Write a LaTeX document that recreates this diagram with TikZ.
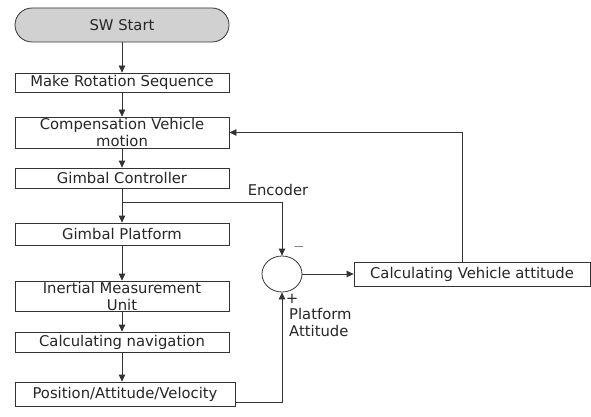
\documentclass[tikz,border=0pt]{standalone}
\usepackage{fontspec}
\setmainfont{DejaVu Sans}
\usetikzlibrary{arrows.meta,shapes.geometric,calc}
\begin{document}
\begin{tikzpicture}[x=1pt,y=-1pt,
  font=\fontsize{14.8}{17}\selectfont,
  every node/.style={text=black!85},
  box/.style={draw=black!80,line width=0.8pt,fill=white,minimum width=214pt,inner sep=0pt,align=center},
  arr/.style={draw=black!80,line width=0.8pt,-{Triangle[width=6.5pt,length=7pt]}},
  ln/.style={draw=black!80,line width=0.8pt}]
\useasboundingbox (0,0) rectangle (591,417);
\node[box,minimum height=34pt,rounded corners=17pt,fill=black!18] (start) at (122,25) {SW Start};
\node[box,minimum height=19pt] (mrs) at (122,82.5) {Make Rotation Sequence};
\node[box,minimum height=31pt] (comp) at (122,132.5) {Compensation Vehicle\\motion};
\node[box,minimum height=20pt] (gc) at (122,178) {Gimbal Controller};
\node[box,minimum height=22pt] (gp) at (122,234) {Gimbal Platform};
\node[box,minimum height=30pt] (imu) at (122,296) {Inertial Measurement\\Unit};
\node[box,minimum height=20pt] (nav) at (122,342) {Calculating navigation};
\node[box,minimum height=24pt,minimum width=220pt] (pav) at (125,394) {Position/Attitude/Velocity};
\node[draw=black!80,line width=0.8pt,ellipse,minimum width=40pt,minimum height=36pt,inner sep=0pt] (sum) at (282,274) {};
\node[box,minimum height=24pt,minimum width=236pt] (cva) at (472,274) {Calculating Vehicle attitude};
\coordinate (br) at (123,202);
\node (enc) at (278,190) {Encoder};
\node (minus) at (299,247) {$-$};
\node (plus) at (292,299) {+};
\node[anchor=north west,align=left,inner sep=0pt] (pa) at (289,308) {Platform\\Attitude};
\draw[arr] (start) -- (mrs);
\draw[arr] (mrs) -- (comp);
\draw[arr] (comp) -- (gc);
\draw[arr] (gc) -- (gp);
\draw[arr] (br) -| (sum.north);
\draw[arr] (gp) -- (imu);
\draw[arr] (imu) -- (nav);
\draw[arr] (nav.south) -- (nav.south |- pav.north);
\draw[arr] ([yshift=4pt]pav.south east) -| (sum.south);
\draw[arr] (sum) -- (cva);
\draw[arr] ([xshift=-10pt]cva.north) |- (comp.east);
\end{tikzpicture}
\end{document}
